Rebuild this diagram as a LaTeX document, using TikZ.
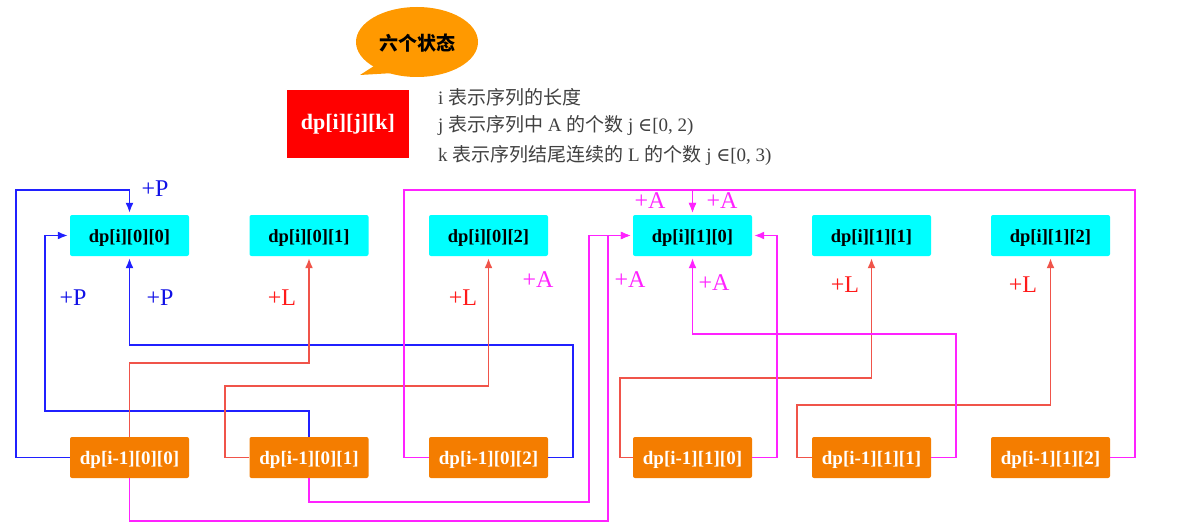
\documentclass[tikz,border=0pt]{standalone}
\usepackage{fontspec}
\setmainfont{Liberation Serif}
\newfontfamily\cjk{Noto Sans CJK SC}
\newfontfamily\symf{DejaVu Serif}
\usetikzlibrary{arrows.meta,positioning}
\definecolor{cyanbox}{HTML}{00FFFF}
\definecolor{orangebox}{HTML}{F47D00}
\definecolor{callout}{HTML}{FF9900}
\definecolor{bline}{HTML}{2020FF}
\definecolor{rline}{HTML}{F0544A}
\definecolor{mline}{HTML}{FF22FF}
\definecolor{blab}{HTML}{1010E6}
\definecolor{rlab}{HTML}{FF1A1A}
\definecolor{desc}{HTML}{404040}
\tikzset{
  topbox/.style={fill=cyanbox, rounded corners=2pt, minimum width=119pt, minimum height=41pt, inner sep=0pt, text height=15pt, text depth=2pt, font=\fontsize{18.5}{20}\selectfont\bfseries, text=black},
  botbox/.style={fill=orangebox, rounded corners=2pt, minimum width=119pt, minimum height=41pt, inner sep=0pt, text height=15pt, text depth=2pt, font=\fontsize{19}{20}\selectfont\bfseries, text=white},
  conn/.style={line width=1.6pt, -{Latex[length=10pt,width=8pt]}, shorten >=2pt},
  bl/.style={draw=bline},
  rd/.style={draw=rline},
  mg/.style={draw=mline},
  lab/.style={font=\fontsize{24}{26}\selectfont, inner sep=0pt},
  dline/.style={font=\fontsize{19}{22}\selectfont, text=desc, anchor=west, inner sep=0pt}
}
\begin{document}
\begin{tikzpicture}[x=1pt,y=-1pt]
\useasboundingbox (0,0) rectangle (1178,532);
% callout
\fill[callout] (417,42) ellipse [x radius=61, y radius=35];
\fill[callout] (374,66) -- (360,75) -- (394,73) -- cycle;
\node[font=\cjk\fontsize{19}{21}\selectfont\bfseries, text=black] (callouttext) at (417,43) {六个状态};
% red box
\node[fill=red, minimum width=122pt, minimum height=68pt, inner sep=0pt, text=white, font=\fontsize{22}{24}\selectfont\bfseries] (dp) at (348,124) {dp[i][j][k]};
% description
\node[dline] (d1) at (438,97) {i {\cjk 表示序列的长度}};
\node[dline] (d2) at (438,125) {j {\cjk 表示序列中} A {\cjk 的个数} j {\symf ∈}[0, 2)};
\node[dline] (d3) at (438,155) {k {\cjk 表示序列结尾连续的} L {\cjk 的个数} j {\symf ∈}[0, 3)};
% top boxes
\node[topbox] (t00) at (129.5,235.5) {dp[i][0][0]};
\node[topbox] (t01) at (309,235.5) {dp[i][0][1]};
\node[topbox] (t02) at (488.5,235.5) {dp[i][0][2]};
\node[topbox] (t10) at (692.5,235.5) {dp[i][1][0]};
\node[topbox] (t11) at (871.5,235.5) {dp[i][1][1]};
\node[topbox] (t12) at (1050.5,235.5) {dp[i][1][2]};
% bottom boxes
\node[botbox] (b00) at (129.5,457.5) {dp[i-1][0][0]};
\node[botbox] (b01) at (309,457.5) {dp[i-1][0][1]};
\node[botbox] (b02) at (488.5,457.5) {dp[i-1][0][2]};
\node[botbox] (b10) at (692.5,457.5) {dp[i-1][1][0]};
\node[botbox] (b11) at (871.5,457.5) {dp[i-1][1][1]};
\node[botbox] (b12) at (1050.5,457.5) {dp[i-1][1][2]};
% blue connectors (+P)
\draw[conn,bl] (b00.west) -| (16,190) -| (t00.north);
\draw[conn,bl] (b01.north) |- (45,411) |- (t00.west);
\draw[conn,bl] (b02.east) -| (573,345) -| (t00.south);
% red connectors (+L)
\draw[conn,rd] (b00.north) |- (300,363) -| (t01.south);
\draw[conn,rd] (b01.west) -| (225,386) -| (t02.south);
\draw[conn,rd] (b10.west) -| (620,378) -| (t11.south);
\draw[conn,rd] (b11.west) -| (797,405) -| (t12.south);
% magenta connectors (+A)
\draw[conn,mg] (b02.west) -| (404,190) -| (t10.north);
\draw[conn,mg] (b12.east) -| (1135,190) -| (t10.north);
\draw[conn,mg] (b00.south) |- (608,521) |- (t10.west);
\draw[conn,mg] (b01.south) |- (589,502) |- (t10.west);
\draw[conn,mg] (b10.east) -| (777,300) |- (t10.east);
\draw[conn,mg] (b11.east) -| (956,334) -| (t10.south);
% labels
\node[lab, text=blab] (lp1) at (155,189) {+P};
\node[lab, text=blab] (lp2) at (73,298) {+P};
\node[lab, text=blab] (lp3) at (160,298) {+P};
\node[lab, text=rlab] (ll1) at (282,298) {+L};
\node[lab, text=rlab] (ll2) at (463,298) {+L};
\node[lab, text=rlab] (ll3) at (845,285) {+L};
\node[lab, text=rlab] (ll4) at (1023,285) {+L};
\node[lab, text=mline] (la1) at (538,280) {+A};
\node[lab, text=mline] (la2) at (630,280) {+A};
\node[lab, text=mline] (la3) at (714,283) {+A};
\node[lab, text=mline] (la4) at (650,201) {+A};
\node[lab, text=mline] (la5) at (722,201) {+A};
\end{tikzpicture}
\end{document}
